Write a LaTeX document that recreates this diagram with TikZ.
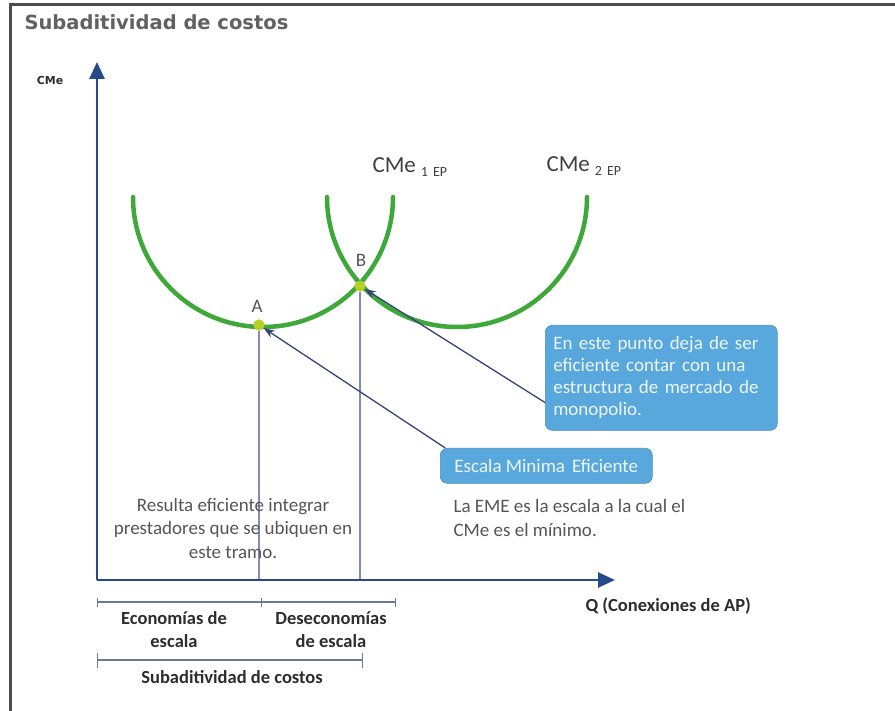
\documentclass[tikz,border=0pt]{standalone}
\usepackage{fontspec}
\setmainfont{Carlito}
\newfontfamily\headfont{DejaVu Sans}
\usetikzlibrary{arrows.meta}
\definecolor{axisblue}{RGB}{38,72,140}
\definecolor{curvegreen}{RGB}{62,168,58}
\definecolor{dotgreen}{RGB}{182,208,40}
\definecolor{boxblue}{RGB}{88,168,222}
\definecolor{guideblue}{RGB}{128,142,172}
\definecolor{pointerblue}{RGB}{52,68,120}
\definecolor{textgray}{RGB}{85,85,85}
\definecolor{labelgray}{RGB}{45,45,45}
\begin{document}
\begin{tikzpicture}[x=1pt, y=-1pt,
    axis/.style={axisblue, line width=2.6pt, -{Triangle[length=17pt, width=15pt]}},
    costcurve/.style={curvegreen, line width=4.5pt, line cap=round},
    guide/.style={guideblue, line width=1.3pt},
    dot/.style={circle, fill=dotgreen, inner sep=0pt, minimum size=11pt},
    pointlabel/.style={textgray, font=\fontsize{19}{19}\selectfont},
    curvelabel/.style={black!75, anchor=base west, font=\fontsize{23}{23}\selectfont},
    callout/.style={fill=boxblue, draw=boxblue!85!black, line width=0.6pt, rounded corners=7pt,
        text=white!90!boxblue, font=\fontsize{19}{22}\selectfont},
    pointer/.style={pointerblue, line width=1.3pt, -{Stealth[length=11pt, width=8pt]}},
    note/.style={textgray, font=\fontsize{19}{23.5}\selectfont},
    rangelabel/.style={labelgray, align=center, font=\bfseries\fontsize{18.5}{23}\selectfont},
    span/.style={guideblue!85!black, line width=1.4pt},
]
\useasboundingbox (0,0) rectangle (895,711);
% Frame
\draw[black!70, line width=3pt] (10,711) -- (10,5) -- (895,5);
\node[anchor=base west, text=black!62, font=\headfont\bfseries\fontsize{19.5}{20}\selectfont]
    (title) at (21,30) {Subaditividad de costos};

% Axes
\coordinate (O) at (97,580);
\coordinate (ytop) at (97,62);
\coordinate (xend) at (615,580);
\node[labelgray, font=\headfont\bfseries\fontsize{11}{11}\selectfont] (ylab) at (50,80) {CMe};
\node[labelgray, anchor=west, font=\bfseries\fontsize{18.5}{18.5}\selectfont]
    (xlab) at (582,606) {Q (Conexiones de AP)};

% Points A and B
\node[dot] (pA) at (259,325) {};
\node[dot] (pB) at (360,286) {};
\draw[guide] (pA) -- (pA |- O);
\draw[guide] (pB) -- (pB |- O);
\draw[axis] (O) -- (ytop);
\draw[axis] (O) -- (xend);

% Average cost curves
\foreach \cx in {263,457} {
    \draw[costcurve] (\cx-130,197) arc[start angle=180, end angle=0, radius=130];
}
\node[dot] at (pA) {};
\node[dot] at (pB) {};
\node[pointlabel] (lA) at (257,306) {A};
\node[pointlabel] (lB) at (361,260) {B};
\node[curvelabel] (cme1) at (369,173)
    {CMe\hspace{5pt}\raisebox{-4pt}{\fontsize{14}{14}\selectfont 1\hspace{5pt}EP}};
\node[curvelabel] (cme2) at (543,172)
    {CMe\hspace{5pt}\raisebox{-4pt}{\fontsize{14}{14}\selectfont 2\hspace{5pt}EP}};

% Callouts
\node[callout, anchor=north west, minimum width=232pt, minimum height=105pt,
    align=left, text width=216pt, inner xsep=8pt] (monop) at (545,325)
    {En este punto deja de ser\\eficiente contar con una\\estructura de mercado de\\monopolio.};
\node[callout, anchor=north west, minimum width=212pt, minimum height=35pt]
    (eme) at (440,448) {Escala Minima\hspace{7pt}Eficiente};
\draw[pointer] (monop.192) -- (pB);
\draw[pointer] (eme.170) -- (pA);

% Notes
\node[note, anchor=west, align=left] (emenote) at (450,518)
    {La EME es la escala a la cual el\\CMe es el mínimo.};
\node[note, align=center] (tramo) at (233,528)
    {Resulta eficiente integrar\\prestadores que se ubiquen en\\este tramo.};

% Ranges under the Q axis
\coordinate (s0) at (97,602);
\coordinate (s1) at (262,602);
\coordinate (s2) at (396,602);
\coordinate (t0) at (97,660);
\coordinate (t1) at (363,660);
\draw[span, {Bar[width=9pt]}-{Bar[width=9pt]}] (s0) -- (s1);
\draw[span, -{Bar[width=9pt]}] (s1) -- (s2);
\draw[span, {Bar[width=15pt]}-{Bar[width=15pt]}] (t0) -- (t1);
\node[rangelabel] (eco) at (174,630) {Economías de\\escala};
\node[rangelabel] (deseco) at (331,630) {Deseconomías\\de escala};
\node[rangelabel] (subad) at (232,677) {Subaditividad de costos};
\end{tikzpicture}
\end{document}
